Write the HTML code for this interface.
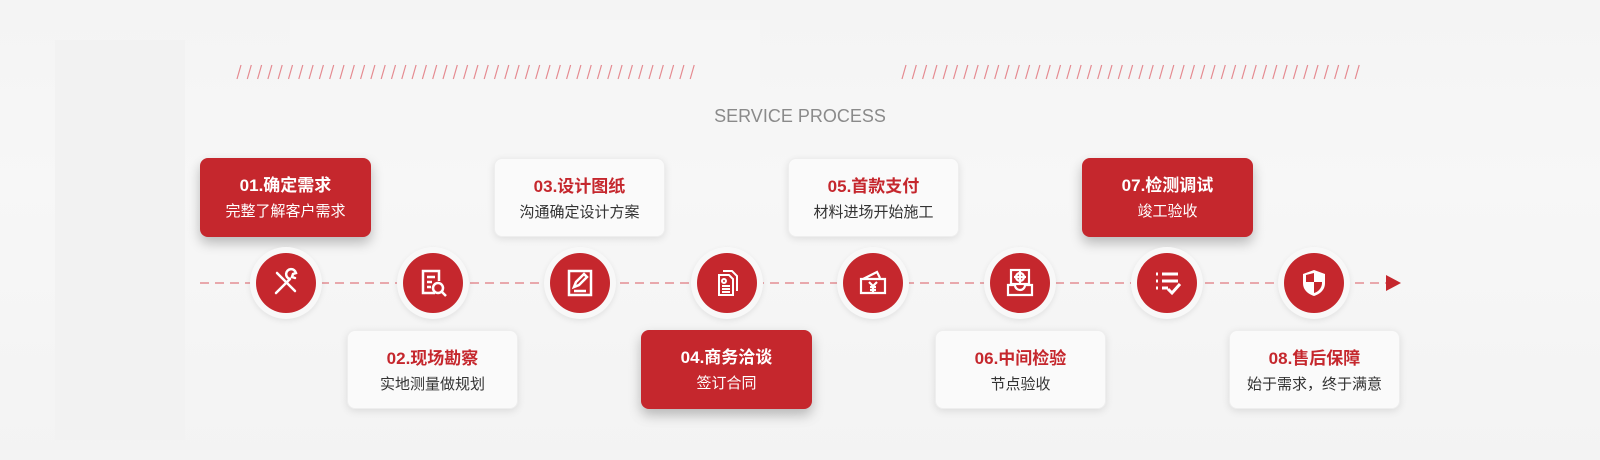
<!DOCTYPE html>
<html><head><meta charset="utf-8"><style>
*{margin:0;padding:0;box-sizing:border-box}
body{width:1600px;height:460px;overflow:hidden;position:relative;font-family:"Liberation Sans","Noto Sans CJK SC",sans-serif;
background:linear-gradient(180deg,#f4f4f4 0%,#f7f7f7 40%,#f3f3f3 100%)}
.bgl{position:absolute}
.card{position:absolute;width:171px;height:79px;border-radius:8px;text-align:center;padding-top:17px}
.card b{display:block;font-size:17px;font-weight:bold;line-height:22px}
.card span{display:block;font-size:15px;line-height:24px;margin-top:3px}
.red{background:#c5272d;color:#fff;box-shadow:0 6px 12px rgba(0,0,0,.25)}
.red b,.red span{color:#fff}
.wh{background:#fafafa;box-shadow:0 2px 8px rgba(0,0,0,.1);border:1px solid #eee}
.wh b{color:#c5272d}.wh span{color:#333}
.ring{position:absolute;width:72px;height:72px;border-radius:50%;background:#f8f8f8;box-shadow:0 2px 6px rgba(0,0,0,.08)}
.c{position:absolute;left:6px;top:6px;width:60px;height:60px;border-radius:50%;background:#c5272d}
.c svg{position:absolute;left:14px;top:14px}
</style></head><body>
<div class="bgl" style="left:55px;top:40px;width:130px;height:400px;background:#f2f2f2"></div>
<div class="bgl" style="left:290px;top:20px;width:470px;height:140px;background:#f6f6f6"></div>
<svg id="s" style="position:absolute;left:0;top:0" width="1600" height="460"></svg>
<div style="position:absolute;left:700px;top:106px;width:200px;text-align:center;font-size:18px;color:#8a8a8a">SERVICE PROCESS</div>

<div class="card red" style="left:200px;top:158px"><b>01.确定需求</b><span>完整了解客户需求</span></div>
<div class="card wh" style="left:494px;top:158px"><b>03.设计图纸</b><span>沟通确定设计方案</span></div>
<div class="card wh" style="left:788px;top:158px"><b>05.首款支付</b><span>材料进场开始施工</span></div>
<div class="card red" style="left:1082px;top:158px"><b>07.检测调试</b><span>竣工验收</span></div>
<div class="card wh" style="left:347px;top:330px"><b>02.现场勘察</b><span>实地测量做规划</span></div>
<div class="card red" style="left:641px;top:330px"><b>04.商务洽谈</b><span>签订合同</span></div>
<div class="card wh" style="left:935px;top:330px"><b>06.中间检验</b><span>节点验收</span></div>
<div class="card wh" style="left:1229px;top:330px"><b>08.售后保障</b><span>始于需求，终于满意</span></div>

<div class="ring" style="left:250px;top:247px"><div class="c"><svg width="32" height="32" viewBox="0 0 32 32" fill="none" stroke="#fff" stroke-width="2.5" stroke-linecap="round"><path d="M6 26L20 12M20 12a5 5 0 1 1 6-6l-3 1-1 3 3 1"/><path d="M7 6l4 4M11 10l14 14"/></svg></div></div>
<div class="ring" style="left:397px;top:247px"><div class="c"><svg width="32" height="32" viewBox="0 0 32 32" fill="none" stroke="#fff" stroke-width="2.5"><path d="M18 26H6V4h16v10"/><path d="M10 10h8M10 15h5M10 20h4"/><circle cx="21" cy="21" r="5"/><path d="M25 25l4 4"/></svg></div></div>
<div class="ring" style="left:544px;top:247px"><div class="c"><svg width="32" height="32" viewBox="0 0 32 32" fill="none" stroke="#fff" stroke-width="2.5"><rect x="5" y="4" width="22" height="24"/><path d="M10 20l2-5 8-8 3 3-8 8z M10 24h12"/></svg></div></div>
<div class="ring" style="left:691px;top:247px"><div class="c"><svg width="32" height="32" viewBox="0 0 32 32" fill="none" stroke="#fff" stroke-width="2"><path d="M12 4h9l5 5v15M8 8h10l4 4v16H8z"/><circle cx="13" cy="14" r="2"/><path d="M11 19h8M11 22h8M11 25h8"/></svg></div></div>
<div class="ring" style="left:837px;top:247px"><div class="c"><svg width="32" height="32" viewBox="0 0 32 32" fill="none" stroke="#fff" stroke-width="2.2"><path d="M4 12h24v14H4zM6 12l14-7 3 6"/><path d="M12 15l4 4 4-4M16 19v6M13 20h6M13 23h6"/></svg></div></div>
<div class="ring" style="left:984px;top:247px"><div class="c"><svg width="32" height="32" viewBox="0 0 32 32" fill="none" stroke="#fff" stroke-width="2.2"><path d="M4 18v10h24V18h-7a5 5 0 0 1-10 0z"/><rect x="7" y="3" width="18" height="14"/><circle cx="16" cy="10" r="4"/><path d="M16 4v12M10 10h12"/></svg></div></div>
<div class="ring" style="left:1131px;top:247px"><div class="c"><svg width="32" height="32" viewBox="0 0 32 32" fill="none" stroke="#fff" stroke-width="3"><path d="M5 7h2M11 7h16M5 14h2M11 14h16M5 21h2M11 21h6M17 22l4 4 8-9"/></svg></div></div>
<div class="ring" style="left:1278px;top:247px"><div class="c"><svg width="32" height="32" viewBox="0 0 32 32"><path d="M16 3l11 4v9c0 7-5 11-11 13C10 27 5 23 5 16V7z" fill="#fff"/><path d="M16 6v9h8v1c0 5-4 9-8 10V15H8V8z" fill="#c5272d"/></svg></div></div>

<script>
var s=document.getElementById('s'),h='';
function sl(a,b){for(var x=a;x<=b;x+=10.3)h+='<line x1="'+(x+4)+'" y1="65" x2="'+x+'" y2="79" stroke="#e58a90" stroke-width="1.2"/>';}
sl(237,700);sl(902,1362);
h+='<line x1="200" y1="283" x2="1388" y2="283" stroke="#e07a80" stroke-width="1.3" stroke-dasharray="9,6"/>';
h+='<polygon points="1386,275 1401,283 1386,291" fill="#c5272d"/>';
s.innerHTML=h;
</script>
</body></html>
